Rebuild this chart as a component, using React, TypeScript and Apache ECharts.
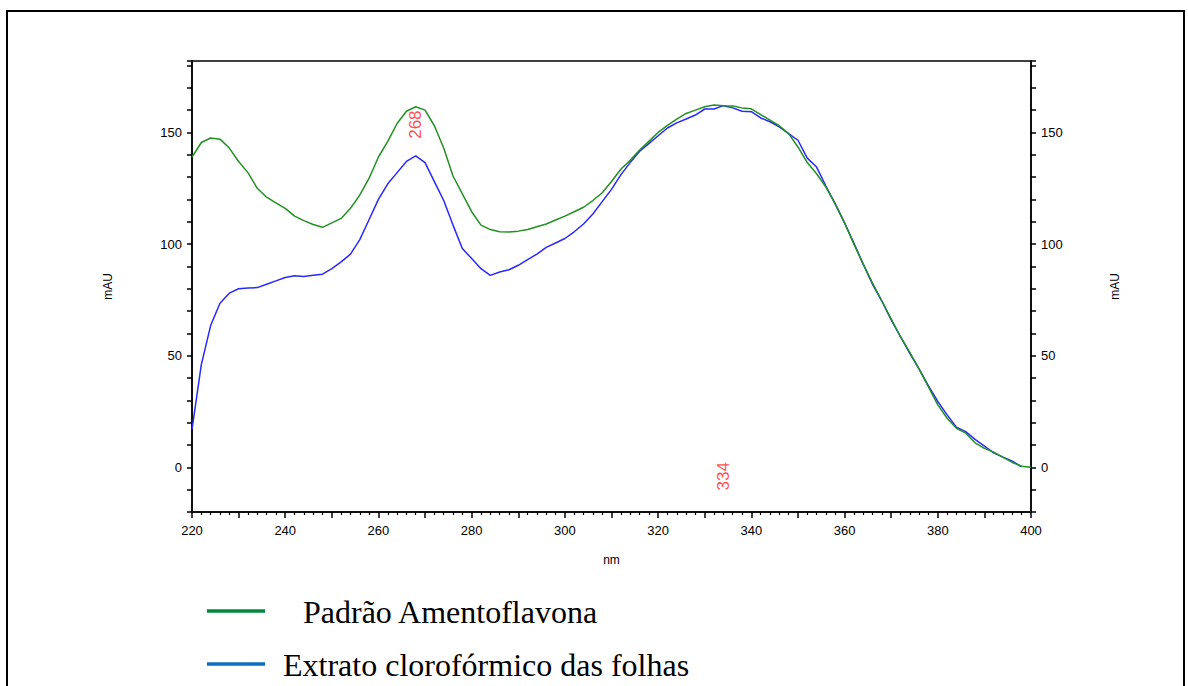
import React, { useEffect, useRef } from "react";
import * as echarts from "echarts";

// Wavelength grid (nm)
const wavelengths: number[] = [
  220, 222, 224, 226, 228, 230, 232, 234, 236, 238,
  240, 242, 244, 246, 248, 250, 252, 254, 256, 258,
  260, 262, 264, 266, 268, 270, 272, 274, 276, 278,
  280, 282, 284, 286, 288, 290, 292, 294, 296, 298,
  300, 302, 304, 306, 308, 310, 312, 314, 316, 318,
  320, 322, 324, 326, 328, 330, 332, 334, 336, 338,
  340, 342, 344, 346, 348, 350, 352, 354, 356, 358,
  360, 362, 364, 366, 368, 370, 372, 374, 376, 378,
  380, 382, 384, 386, 388, 390, 392, 394, 396, 398, 400,
];

// Padrão Amentoflavona (mAU)
const padraoValues: (number | null)[] = [
  139, 145.5, 147.5, 147, 143, 137, 132, 125, 121, 118.5,
  116, 112.5, 110.5, 108.8, 107.5, 109.5, 111.5, 116, 122, 129.5,
  139, 146, 154, 159.5, 161.5, 160, 153, 143, 130.5, 122.5,
  114.5, 108.5, 106.5, 105.5, 105.4, 105.8, 106.5, 107.8, 109, 110.8,
  112.5, 114.5, 116.5, 119.5, 123, 128, 133.5, 137.5, 142, 146,
  150, 153.2, 156, 158.5, 160, 161.5, 162.3, 162, 161.8, 161,
  160.6, 158, 155.5, 153, 149.5, 143.5, 136.5, 131.5, 125.5, 118,
  109.5, 100, 91, 82.5, 74.5, 66.5, 58.5, 51.5, 44, 36,
  28, 22, 17.5, 15.3, 11, 8.5, 6.8, 4.5, 2.2, 0.5, 0,
];

// Extrato clorofórmico das folhas (mAU)
const extratoValues: (number | null)[] = [
  17, 46, 63.5, 73.5, 78, 80, 80.3, 80.5, 82, 83.5,
  85, 85.8, 85.5, 86, 86.5, 89, 92, 95.5, 102, 111,
  120, 127, 132, 137, 139.5, 136.5, 128, 119.5, 108.5, 98,
  93.5, 89, 86, 87.5, 88.5, 90.5, 93, 95.5, 98.5, 100.5,
  102.5, 105.5, 109, 113.5, 119, 124.5, 131, 136.5, 141.5, 145,
  148.5, 152, 154.3, 156, 157.8, 160.5, 160.5, 162, 161, 159.5,
  159.3, 156.5, 154.8, 152.5, 149.5, 146.5, 138.5, 134.5, 126, 118,
  109.5, 100.5, 91, 82, 74.5, 66, 58.5, 51, 44, 36.5,
  29.5, 23.5, 18, 16, 12.5, 9.5, 6.5, 4.6, 2.8, 0.2, null,
];

// Peak annotations: [nm, label position in mAU]
const peakNm: number[] = [268, 334];
const peakLabelY: number[] = [153.5, -4];

const seriesNames = ["Padrão Amentoflavona", "Extrato clorofórmico das folhas"];

export default function App() {
  const ref = useRef<HTMLDivElement>(null);

  useEffect(() => {
    if (!ref.current) return;
    const chart = echarts.init(ref.current, null, { renderer: "svg" });

    const pair = (vals: (number | null)[]) =>
      wavelengths.map((w, i) => [w, vals[i]]);

    const axisFont = { fontFamily: "Liberation Sans, Arial, sans-serif", fontSize: 13, color: "#000" };

    const yAxisCommon = {
      type: "value" as const,
      min: -20,
      max: 182,
      interval: 10,
      name: "mAU",
      nameLocation: "middle" as const,
      nameRotate: 90,
      nameGap: 78,
      nameTextStyle: { ...axisFont, fontSize: 12 },
      axisLine: { show: true, lineStyle: { color: "#000", width: 1.5 } },
      axisTick: { show: true, inside: false, length: 5, lineStyle: { color: "#000", width: 1.5 } },
      axisLabel: {
        ...axisFont,
        margin: 10,
        formatter: (v: number) => (Math.abs(v % 50) < 1e-9 ? String(v) : ""),
      },
      splitLine: { show: false },
    };

    chart.setOption({
      animation: false,
      backgroundColor: "#fff",
      grid: {
        left: 192,
        right: 157,
        top: 61,
        bottom: 174,
        show: true,
        borderColor: "#000",
        borderWidth: 1.5,
        containLabel: false,
      },
      xAxis: {
        type: "value",
        min: 220,
        max: 400,
        interval: 10,
        name: "nm",
        nameLocation: "middle",
        nameGap: 42,
        nameTextStyle: { ...axisFont, fontSize: 12 },
        axisLine: { show: true, onZero: false, lineStyle: { color: "#000", width: 1.5 } },
        axisTick: { show: true, length: 6, lineStyle: { color: "#000", width: 1.5 } },
        minorTick: { show: true, splitNumber: 5, length: 3, lineStyle: { color: "#000", width: 1.2 } },
        axisLabel: {
          ...axisFont,
          margin: 12,
          formatter: (v: number) => (v % 20 === 0 ? String(v) : ""),
        },
        splitLine: { show: false },
      },
      yAxis: [
        { ...yAxisCommon, position: "left" },
        { ...yAxisCommon, position: "right" },
      ],
      series: [
        {
          name: seriesNames[0],
          type: "line",
          data: pair(padraoValues),
          showSymbol: false,
          symbol: "none",
          lineStyle: { color: "#229022", width: 1.5 },
          itemStyle: { color: "#229022" },
          z: 3,
        },
        {
          name: seriesNames[1],
          type: "line",
          data: pair(extratoValues),
          showSymbol: false,
          symbol: "none",
          lineStyle: { color: "#2828ff", width: 1.5 },
          itemStyle: { color: "#2828ff" },
          z: 2,
        },
        {
          name: "peaks",
          type: "scatter",
          data: peakNm.map((n, i) => [n, peakLabelY[i]]),
          symbolSize: 0,
          z: 5,
          label: {
            show: true,
            position: "inside",
            rotate: 90,
            color: "#ff2020",
            fontFamily: "Liberation Sans, Arial, sans-serif",
            fontSize: 17,
            formatter: (p: any) => String(p.value[0]),
          },
        },
      ],
      graphic: [
        {
          type: "rect",
          shape: { x: 7, y: 11, width: 1177, height: 700 },
          style: { fill: "none", stroke: "#000", lineWidth: 2 },
          silent: true,
        },
        {
          type: "line",
          shape: { x1: 207, y1: 611, x2: 265, y2: 611 },
          style: { stroke: "#00883c", lineWidth: 3.5 },
        },
        {
          type: "text",
          x: 303,
          y: 612,
          style: {
            text: seriesNames[0],
            fill: "#000",
            font: "32px 'Liberation Serif', 'Times New Roman', serif",
            verticalAlign: "middle",
            align: "left",
          },
        },
        {
          type: "line",
          shape: { x1: 207, y1: 664, x2: 265, y2: 664 },
          style: { stroke: "#0e6fc1", lineWidth: 3.5 },
        },
        {
          type: "text",
          x: 283,
          y: 665,
          style: {
            text: seriesNames[1],
            fill: "#000",
            font: "32px 'Liberation Serif', 'Times New Roman', serif",
            verticalAlign: "middle",
            align: "left",
          },
        },
      ],
    });

    return () => chart.dispose();
  }, []);

  return (
    <div
      ref={ref}
      style={{ position: "fixed", left: 0, top: 0, width: 1188, height: 686, background: "#fff" }}
    />
  );
}
